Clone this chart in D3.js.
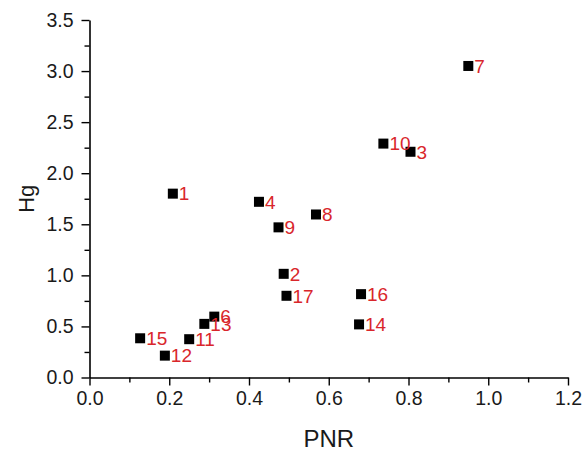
<!DOCTYPE html>
<html>
<head>
<meta charset="utf-8">
<script src="https://cdn.jsdelivr.net/npm/d3@7"></script>
<style>
  html, body { margin: 0; padding: 0; background: #fff; }
  #chart { width: 586px; height: 459px; }
  text { font-family: Arial, "Liberation Sans", sans-serif; }
</style>
</head>
<body>
<div id="chart"></div>
<script>
// PNR vs Hg scatter, numbered samples.
var ids = ['1', '2', '3', '4', '6', '7', '8', '9', '10', '11', '12', '13', '14', '15', '16', '17'];
var pnr = [0.209, 0.487, 0.805, 0.425, 0.313, 0.950, 0.568, 0.474, 0.737, 0.250, 0.189, 0.288, 0.676, 0.127, 0.681, 0.494];
var hg  = [1.80, 1.015, 2.21, 1.72, 0.596, 3.05, 1.596, 1.47, 2.29, 0.375, 0.214, 0.525, 0.52, 0.384, 0.816, 0.80];

var xTicks = [0, 0.2, 0.4, 0.6, 0.8, 1.0, 1.2];
var yTicks = [0, 0.5, 1.0, 1.5, 2.0, 2.5, 3.0, 3.5];
var xMinor = [0.1, 0.3, 0.5, 0.7, 0.9, 1.1];
var yMinor = [0.25, 0.75, 1.25, 1.75, 2.25, 2.75, 3.25];

(function () {
    var W = 586, H = 459;
    var margin = { top: 20, right: 18, bottom: 81.5, left: 89.5 };
    var innerW = W - margin.left - margin.right;
    var innerH = H - margin.top - margin.bottom;

    var svg = d3.select('#chart').append('svg')
        .attr('width', W).attr('height', H);
    var g = svg.append('g')
        .attr('transform', 'translate(' + margin.left + ',' + margin.top + ')');

    var x = d3.scaleLinear().domain([0, 1.2]).range([0, innerW]);
    var y = d3.scaleLinear().domain([0, 3.5]).range([innerH, 0]);

    function styleAxis(sel) {
        sel.selectAll('.domain').attr('stroke', '#000').attr('stroke-width', 1.6);
        sel.selectAll('.tick line').attr('stroke', '#000').attr('stroke-width', 1.4);
        sel.selectAll('.tick text').attr('fill', '#1a1a1a').style('font-size', '19.5px');
    }

    // minor ticks first, majors on top
    g.append('g')
        .attr('transform', 'translate(0,' + innerH + ')')
        .call(d3.axisBottom(x).tickValues(xMinor).tickSize(5).tickFormat(''))
        .call(function (s) { s.select('.domain').remove(); s.selectAll('line').attr('stroke', '#000').attr('stroke-width', 1.4); });
    g.append('g')
        .call(d3.axisLeft(y).tickValues(yMinor).tickSize(5).tickFormat(''))
        .call(function (s) { s.select('.domain').remove(); s.selectAll('line').attr('stroke', '#000').attr('stroke-width', 1.4); });

    var xAxis = g.append('g')
        .attr('transform', 'translate(0,' + innerH + ')')
        .call(d3.axisBottom(x).tickValues(xTicks).tickSize(8).tickSizeOuter(0)
            .tickPadding(6).tickFormat(d3.format('.1f')));
    var yAxis = g.append('g')
        .call(d3.axisLeft(y).tickValues(yTicks).tickSize(8).tickSizeOuter(0)
            .tickPadding(8).tickFormat(d3.format('.1f')));
    styleAxis(xAxis);
    styleAxis(yAxis);

    // points
    var idx = d3.range(ids.length);
    var sq = 10;
    g.selectAll('rect.pt').data(idx).enter().append('rect')
        .attr('class', 'pt')
        .attr('x', function (i) { return x(pnr[i]) - sq / 2; })
        .attr('y', function (i) { return y(hg[i]) - sq / 2; })
        .attr('width', sq).attr('height', sq)
        .attr('fill', '#000');

    g.selectAll('text.lbl').data(idx).enter().append('text')
        .attr('class', 'lbl')
        .attr('x', function (i) { return x(pnr[i]) + 6; })
        .attr('y', function (i) { return y(hg[i]); })
        .attr('dy', '0.36em')
        .attr('fill', '#d9262b')
        .style('font-size', '19px')
        .text(function (i) { return ids[i]; });

    // axis titles
    svg.append('text')
        .attr('x', margin.left + innerW / 2).attr('y', 446.5)
        .attr('text-anchor', 'middle')
        .attr('fill', '#1a1a1a')
        .style('font-size', '24px')
        .text('PNR');
    svg.append('text')
        .attr('transform', 'translate(33.5,' + (margin.top + innerH / 2) + ') rotate(-90)')
        .attr('text-anchor', 'middle')
        .attr('fill', '#1a1a1a')
        .style('font-size', '22px')
        .text('Hg');
})();
</script>
</body>
</html>
